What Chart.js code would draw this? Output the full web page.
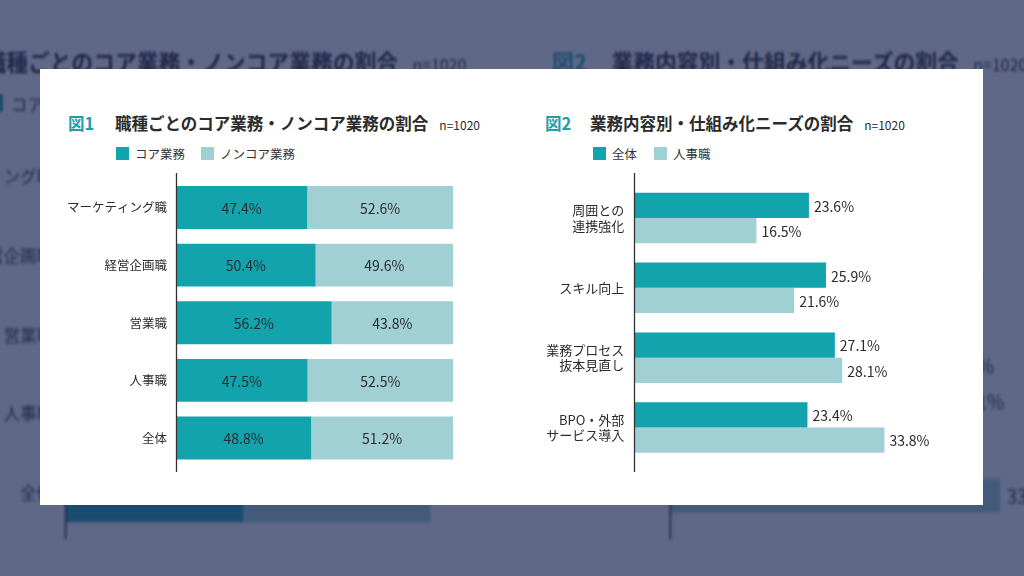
<!DOCTYPE html>
<html lang="ja">
<head>
<meta charset="utf-8">
<title>コア業務・仕組み化ニーズ</title>
<script src="https://cdn.jsdelivr.net/npm/chart.js@4/dist/chart.umd.min.js"></script>
<style>
html, body { margin: 0; padding: 0; width: 1024px; height: 576px; overflow: hidden; background: #fff;
  font-family: "Noto Sans CJK JP", "Noto Sans", sans-serif; color: #2b2b2b; }
.layer { position: absolute; left: 0; top: 0; width: 1024px; height: 576px; }
#bg { transform-origin: 523px 290px; transform: scale(1.32, 1.37); filter: blur(1px); }
#shade { background: rgba(28, 40, 85, 0.7); }
.card { position: absolute; left: 40px; top: 69px; width: 943px; height: 436px; background: #fff; }
.t { position: absolute; white-space: nowrap; line-height: 1; }
.fig { font-size: 16.5px; font-weight: 700; color: #1ea0a8; }
.main { font-size: 16.5px; font-weight: 700; color: #2b2b2b; }
.main .n { font-size: 12px; font-weight: 400; margin-left: 11px; }
.leg { position: absolute; top: 147px; height: 13px; display: flex; align-items: center;
  font-size: 12.5px; color: #333; white-space: nowrap; }
.leg i { display: inline-block; width: 13px; height: 13px; margin-right: 6px; }
.plot { position: absolute; }
</style>
</head>
<body>
<div id="bg" class="layer"></div>
<div id="shade" class="layer"></div>
<div id="fg" class="layer"></div>
<script>
// 図1 : 職種ごとのコア業務・ノンコア業務の割合
const jobLabels = ['マーケティング職', '経営企画職', '営業職', '人事職', '全体'];
const coreShare = [47.4, 50.4, 56.2, 47.5, 48.8];
const nonCoreShare = [52.6, 49.6, 43.8, 52.5, 51.2];

// 図2 : 業務内容別・仕組み化ニーズの割合
const taskLabels = [['周囲との', '連携強化'], 'スキル向上', ['業務プロセス', '抜本見直し'], ['BPO・外部', 'サービス導入']];
const allNeeds = [23.6, 25.9, 27.1, 23.4];
const hrNeeds = [16.5, 21.6, 28.1, 33.8];

const TEAL = '#12a3ac';
const LIGHT = '#a0d0d4';
const FONT = '"Noto Sans CJK JP", "Noto Sans", sans-serif';

// 縦軸の線（チャート領域より少し長く描く）
const axisLine = {
    id: 'axisLine',
    afterDraw(chart) {
        const ctx = chart.ctx;
        const x = Math.round(chart.chartArea.left) + 0.5;
        ctx.save();
        ctx.strokeStyle = '#333';
        ctx.lineWidth = 1.3;
        ctx.beginPath();
        ctx.moveTo(x, 0);
        ctx.lineTo(x, chart.height);
        ctx.stroke();
        ctx.restore();
    }
};

// 棒の値ラベル
const valueLabels = {
    id: 'valueLabels',
    afterDatasetsDraw(chart, args, opts) {
        const ctx = chart.ctx;
        ctx.save();
        ctx.font = '14px ' + FONT;
        ctx.fillStyle = '#2b2b2b';
        ctx.textBaseline = 'middle';
        chart.data.datasets.forEach((ds, i) => {
            chart.getDatasetMeta(i).data.forEach((bar, j) => {
                const txt = ds.data[j].toFixed(1) + '%';
                if (opts.inside) {
                    ctx.textAlign = 'center';
                    ctx.fillText(txt, (bar.x + bar.base) / 2, bar.y + 1);
                } else {
                    ctx.textAlign = 'left';
                    ctx.fillText(txt, bar.x + 5, bar.y + 1);
                }
            });
        });
        ctx.restore();
    }
};

function el(parent, cls, css, html) {
    const d = document.createElement('div');
    d.className = cls;
    Object.assign(d.style, css);
    if (html) d.innerHTML = html;
    parent.appendChild(d);
    return d;
}

function yAxis(width, fontSize, pad) {
    return {
        afterFit(scale) {
            scale.width = width;
            // ラベルの高さによる余白を消す
            scale.paddingTop = 0;
            scale.paddingBottom = 0;
        },
        grid: { display: false, drawTicks: false },
        border: { display: false },
        ticks: { color: '#2b2b2b', padding: pad, font: { family: FONT, size: fontSize, lineHeight: 1.2 } }
    };
}

function buildCard(root) {
    el(root, 'card', {});

    // タイトルと凡例
    el(root, 't fig', { left: '68px', top: '115px' }, '図1');
    el(root, 't main', { left: '115px', top: '115px' }, '職種ごとのコア業務・ノンコア業務の割合<span class="n">n=1020</span>');
    el(root, 'leg', { left: '116px' }, '<i style="background:' + TEAL + '"></i>コア業務');
    el(root, 'leg', { left: '201px' }, '<i style="background:' + LIGHT + '"></i>ノンコア業務');

    el(root, 't fig', { left: '545px', top: '115px' }, '図2');
    el(root, 't main', { left: '590px', top: '115px' }, '業務内容別・仕組み化ニーズの割合<span class="n">n=1020</span>');
    el(root, 'leg', { left: '593px' }, '<i style="background:' + TEAL + '"></i>全体');
    el(root, 'leg', { left: '654px' }, '<i style="background:' + LIGHT + '"></i>人事職');

    // 図1 : 積み上げ横棒
    const box1 = el(root, 'plot', { left: '50px', top: '173px', width: '420px', height: '299px' });
    const c1 = document.createElement('canvas');
    box1.appendChild(c1);
    new Chart(c1, {
        type: 'bar',
        data: {
            labels: jobLabels,
            datasets: [
                { label: 'コア業務', data: coreShare, backgroundColor: TEAL },
                { label: 'ノンコア業務', data: nonCoreShare, backgroundColor: LIGHT }
            ]
        },
        options: {
            indexAxis: 'y',
            responsive: true,
            maintainAspectRatio: false,
            animation: false,
            layout: { padding: { top: 5.7, bottom: 5.2, right: 17, left: 0 } },
            datasets: { bar: { barPercentage: 0.746, categoryPercentage: 1 } },
            scales: {
                x: { stacked: true, min: 0, max: 100, display: false },
                y: Object.assign({ stacked: true }, yAxis(126, 12.5, 9))
            },
            plugins: { legend: { display: false }, tooltip: { enabled: false }, valueLabels: { inside: true } }
        },
        plugins: [valueLabels, axisLine]
    });

    // 図2 : 横棒グループ
    const box2 = el(root, 'plot', { left: '530px', top: '173px', width: '445px', height: '299px' });
    const c2 = document.createElement('canvas');
    box2.appendChild(c2);
    new Chart(c2, {
        type: 'bar',
        data: {
            labels: taskLabels,
            datasets: [
                { label: '全体', data: allNeeds, backgroundColor: TEAL },
                { label: '人事職', data: hrNeeds, backgroundColor: LIGHT }
            ]
        },
        options: {
            indexAxis: 'y',
            responsive: true,
            maintainAspectRatio: false,
            animation: false,
            layout: { padding: { top: 10.1, bottom: 9.6, right: 44.7, left: 0 } },
            datasets: { bar: { barPercentage: 1, categoryPercentage: 0.723 } },
            scales: {
                x: { min: 0, max: 40, display: false },
                y: yAxis(104.3, 13, 10)
            },
            plugins: { legend: { display: false }, tooltip: { enabled: false }, valueLabels: { inside: false } }
        },
        plugins: [valueLabels, axisLine]
    });
}

// 背景（拡大・減光したコピー）と前面カード
buildCard(document.getElementById('bg'));
buildCard(document.getElementById('fg'));
</script>
</body>
</html>
